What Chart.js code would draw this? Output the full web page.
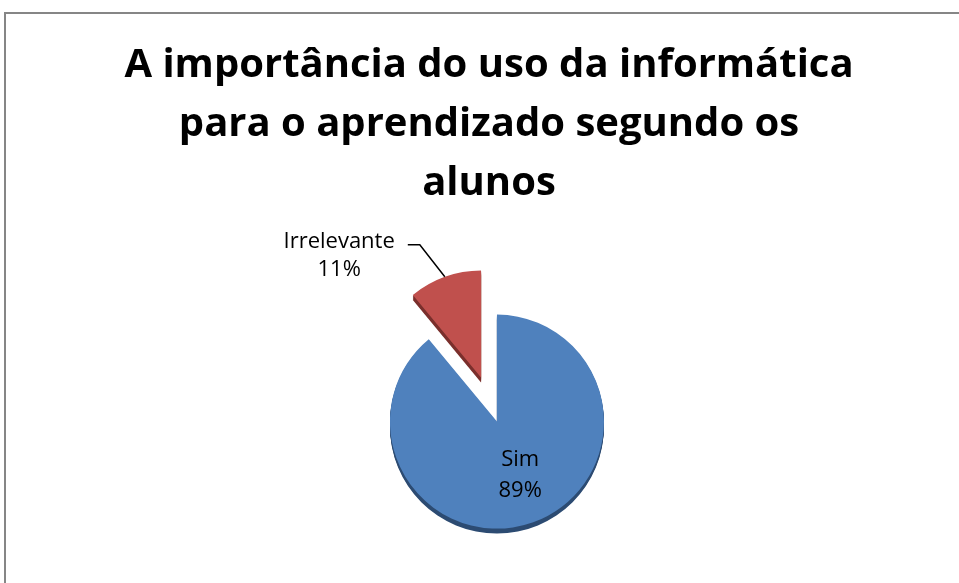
<!DOCTYPE html>
<html><head><meta charset="utf-8">
<script src="https://cdn.jsdelivr.net/npm/chart.js@4.4.0/dist/chart.umd.min.js"></script>
<style>html,body{margin:0;padding:0;background:#fff;overflow:hidden}canvas{display:block}</style>
</head><body>
<canvas id="c" width="959" height="583"></canvas>
<script>
const titleLines = ['A importância do uso da informática', 'para o aprendizado segundo os', 'alunos'];
const categories = ['Sim', 'Irrelevante'];
const values = [89, 11];
const sliceColors = ['#4F81BD', '#C0504D'];
const sliceDepthColors = ['#2C4B72', '#7A2F2C'];

const EXPLODE = 23.5, DEPTH = 5, RADIUS = 107;

const framePlugin = {
  id: 'frame',
  beforeDraw(chart) {
    const ctx = chart.ctx;
    ctx.save();
    ctx.fillStyle = '#fff';
    ctx.fillRect(0, 0, chart.width, chart.height);
    ctx.fillStyle = '#868686';
    ctx.fillRect(4, 12, chart.width, 2);
    ctx.fillRect(4, 12, 2, chart.height);
    ctx.restore();
  }
};

const explodePlugin = {
  id: 'explode',
  afterDatasetsUpdate(chart) {
    chart.getDatasetMeta(0).data.forEach(el => {
      const mid = (el.startAngle + el.endAngle) / 2;
      el.x += Math.cos(mid) * EXPLODE;
      el.y += Math.sin(mid) * EXPLODE;
    });
  },
  beforeDatasetsDraw(chart) {
    const ctx = chart.ctx;
    chart.getDatasetMeta(0).data.forEach((el, i) => {
      const p = el.getProps(['x', 'y', 'startAngle', 'endAngle', 'outerRadius'], true);
      ctx.save();
      ctx.fillStyle = sliceDepthColors[i];
      for (let d = 1; d <= DEPTH; d++) {
        ctx.beginPath();
        ctx.moveTo(p.x, p.y + d);
        ctx.arc(p.x, p.y + d, p.outerRadius, p.startAngle, p.endAngle);
        ctx.closePath();
        ctx.fill();
      }
      ctx.restore();
    });
  },
  afterDatasetsDraw(chart) {
    const ctx = chart.ctx;
    const total = values.reduce((a, b) => a + b, 0);
    chart.getDatasetMeta(0).data.forEach((el, i) => {
      const p = el.getProps(['x', 'y', 'startAngle', 'endAngle', 'outerRadius'], true);
      const mid = (p.startAngle + p.endAngle) / 2;
      const pct = Math.round(values[i] / total * 100) + '%';
      ctx.save();
      ctx.font = '22px "Open Sans"';
      ctx.fillStyle = '#000';
      ctx.textAlign = 'center';
      ctx.textBaseline = 'middle';
      if (values[i] / total > 0.25) {
        const lx = p.x + Math.cos(mid) * p.outerRadius * 0.53 + 4;
        const ly = p.y + Math.sin(mid) * p.outerRadius * 0.53;
        ctx.fillText(categories[i], lx, ly - 15.5);
        ctx.fillText(pct, lx, ly + 15.5);
      } else {
        const px = p.x + Math.cos(mid) * p.outerRadius;
        const py = p.y + Math.sin(mid) * p.outerRadius;
        const ex = px - 25, ey = py - 32, hx = ex - 12;
        ctx.strokeStyle = '#000';
        ctx.lineWidth = 1.5;
        ctx.beginPath();
        ctx.moveTo(px, py);
        ctx.lineTo(ex, ey);
        ctx.lineTo(hx, ey);
        ctx.stroke();
        const w = ctx.measureText(categories[i]).width;
        const cx = hx - 13 - w / 2;
        ctx.fillText(categories[i], cx, ey - 3);
        ctx.fillText(pct, cx, ey + 25);
      }
      ctx.restore();
    });
  }
};

new Chart(document.getElementById('c'), {
  type: 'pie',
  data: {
    labels: categories,
    datasets: [{
      data: values,
      backgroundColor: sliceColors,
      borderWidth: 0
    }]
  },
  options: {
    responsive: false,
    animation: false,
    devicePixelRatio: 1,
    radius: RADIUS,
    layout: { padding: { left: 19, top: 0, right: 0, bottom: 0 } },
    plugins: {
      legend: { display: false },
      tooltip: { enabled: false },
      title: {
        display: true,
        text: titleLines,
        color: '#000',
        font: { family: '"Open Sans"', size: 40, weight: 'bold', lineHeight: 1.475 },
        padding: { top: 36, bottom: 3 }
      }
    }
  },
  plugins: [framePlugin, explodePlugin]
});
</script>
</body></html>
